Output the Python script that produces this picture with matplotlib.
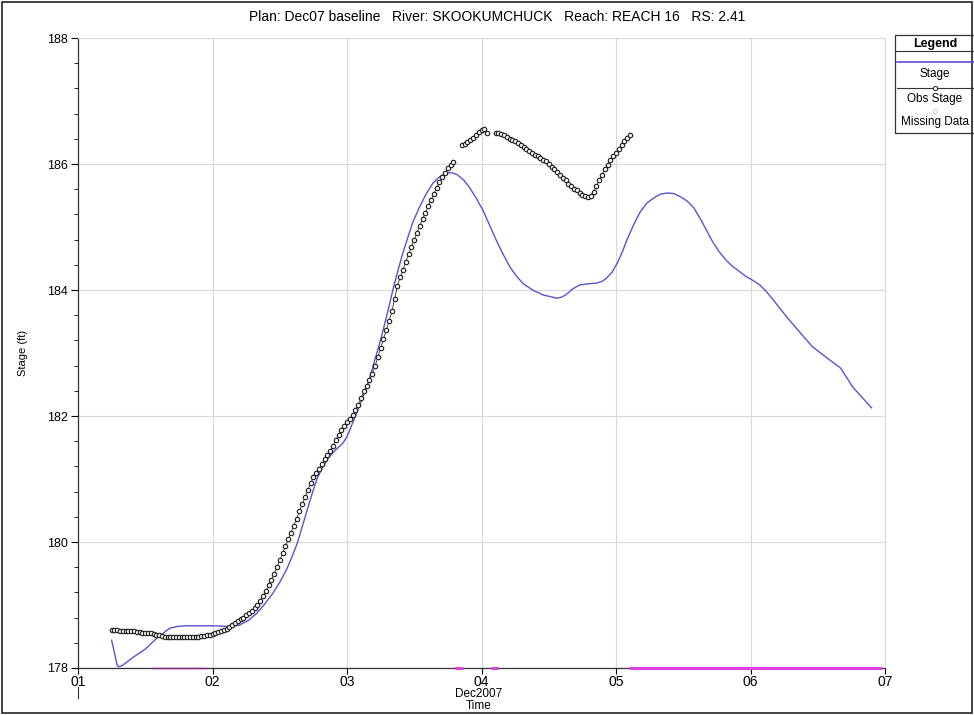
import numpy as np
import matplotlib
matplotlib.use("Agg")
import matplotlib.pyplot as plt
from matplotlib.lines import Line2D
from matplotlib.patches import Rectangle

plt.rcParams['font.family'] = ['Liberation Sans', 'DejaVu Sans']

# ---------------- data ----------------
title = "Plan: Dec07 baseline   River: SKOOKUMCHUCK   Reach: REACH 16   RS: 2.41"
x_tick_vals = [1, 2, 3, 4, 5, 6, 7]
x_tick_labels = ["01", "02", "03", "04", "05", "06", "07"]
y_tick_vals = [178, 180, 182, 184, 186, 188]

# Simulated stage (day of Dec 2007, ft)
stage_day = [1.25, 1.27, 1.29, 1.30, 1.33, 1.41, 1.50, 1.59, 1.68, 1.74, 1.80, 2.00,
             2.12, 2.20, 2.27, 2.33, 2.39, 2.45, 2.50, 2.55, 2.59, 2.63, 2.66, 2.70,
             2.75, 2.78, 2.82, 2.86, 2.90, 2.97, 3.00, 3.07, 3.15, 3.20, 3.25, 3.30,
             3.35, 3.41, 3.45, 3.49, 3.54, 3.59, 3.64, 3.69, 3.74, 3.78, 3.82, 3.87,
             3.91, 3.96, 4.01, 4.06, 4.11, 4.16, 4.21, 4.26, 4.31, 4.38, 4.46, 4.56,
             4.60, 4.63, 4.68, 4.73, 4.80, 4.86, 4.90, 4.93, 4.97, 5.01, 5.05, 5.08,
             5.13, 5.18, 5.23, 5.28, 5.33, 5.38, 5.43, 5.48, 5.53, 5.58, 5.63, 5.68,
             5.72, 5.77, 5.82, 5.87, 5.92, 5.97, 6.02, 6.07, 6.12, 6.17, 6.27, 6.37,
             6.46, 6.57, 6.67, 6.76, 6.90]
stage_ft = [178.44, 178.25, 178.05, 178.02, 178.04, 178.17, 178.30, 178.48, 178.63, 178.66, 178.67, 178.67,
            178.66, 178.68, 178.76, 178.87, 179.02, 179.19, 179.36, 179.56, 179.76, 179.98, 180.19, 180.48,
            180.83, 181.02, 181.19, 181.33, 181.43, 181.57, 181.67, 182.04, 182.47, 182.84, 183.21, 183.63,
            184.08, 184.55, 184.82, 185.08, 185.32, 185.53, 185.70, 185.80, 185.86, 185.86, 185.83, 185.74,
            185.63, 185.46, 185.27, 185.03, 184.79, 184.57, 184.37, 184.22, 184.10, 184.00, 183.92, 183.87,
            183.89, 183.93, 184.02, 184.08, 184.10, 184.11, 184.14, 184.19, 184.28, 184.43, 184.62, 184.79,
            185.03, 185.24, 185.38, 185.46, 185.52, 185.54, 185.53, 185.48, 185.41, 185.30, 185.12, 184.92,
            184.76, 184.60, 184.47, 184.37, 184.29, 184.21, 184.15, 184.08, 183.97, 183.84, 183.57, 183.32,
            183.10, 182.92, 182.76, 182.46, 182.13]

# Observed stage, half-hourly from 06:00 Dec 1 (hours after Dec 1 00:00), NaN = gap
obs_hour = np.arange(6.0, 98.51, 0.5)
obs_ft = [178.60, 178.60, 178.60, 178.59, 178.59, 178.59, 178.58, 178.58, 178.58, 178.57,
          178.57, 178.56, 178.56, 178.55, 178.55, 178.54, 178.53, 178.52, 178.51, 178.50,
          178.50, 178.50, 178.50, 178.50, 178.50, 178.50, 178.50, 178.50, 178.50, 178.50,
          178.50, 178.50, 178.51, 178.51, 178.52, 178.53, 178.54, 178.55, 178.57, 178.58,
          178.60, 178.62, 178.65, 178.68, 178.71, 178.74, 178.77, 178.80, 178.84, 178.87,
          178.90, 178.95, 179.00, 179.07, 179.14, 179.22, 179.31, 179.40, 179.50, 179.60,
          179.71, 179.82, 179.93, 180.04, 180.15, 180.26, 180.37, 180.49, 180.60, 180.71,
          180.82, 180.93, 181.03, 181.10, 181.16, 181.24, 181.31, 181.38, 181.44, 181.53,
          181.62, 181.70, 181.78, 181.84, 181.90, 181.96, 182.02, 182.10, 182.18, 182.28,
          182.39, 182.48, 182.57, 182.67, 182.79, 182.93, 183.08, 183.22, 183.36, 183.51,
          183.66, 183.86, 184.07, 184.20, 184.32, 184.45, 184.57, 184.69, 184.80, 184.91,
          185.02, 185.13, 185.23, 185.33, 185.43, 185.53, 185.62, 185.71, 185.79, 185.86,
          185.93, 185.98, 186.03, np.nan, np.nan, 186.30, 186.32, 186.35, 186.38, 186.42,
          186.46, 186.51, 186.54, 186.55, 186.50, np.nan, np.nan, 186.50, 186.49, 186.47,
          186.46, 186.43, 186.40, 186.38, 186.36, 186.33, 186.30, 186.27, 186.24, 186.21,
          186.18, 186.15, 186.12, 186.10, 186.07, 186.04, 186.00, 185.96, 185.92, 185.87,
          185.83, 185.78, 185.74, 185.69, 185.65, 185.61, 185.58, 185.54, 185.51, 185.49,
          185.48, 185.50, 185.56, 185.65, 185.74, 185.83, 185.92, 185.99, 186.06, 186.12,
          186.18, 186.24, 186.30, 186.36, 186.42, 186.46]

# Missing data spans (day start, day end), drawn at the base line
missing_start = [1.55, 3.80, 4.07, 5.10]
missing_end = [1.95, 3.86, 4.12, 6.98]
missing_level = 178.0

# ---------------- figure ----------------
W, H = 974, 715
fig = plt.figure(figsize=(W / 100, H / 100), dpi=100)

def fx(px):
    return px / W

def fy(py):
    return 1 - py / H

ax = fig.add_axes([fx(78), fy(668), fx(885) - fx(78), fy(38) - fy(668)])

obs_day = 1 + np.asarray(obs_hour) / 24.0

ax.plot(stage_day, stage_ft, color='#5555d0', lw=1.0, zorder=3)
ax.plot(obs_day, obs_ft, color='#333333', lw=0.6, zorder=4)
ax.plot(obs_day, obs_ft, ls='none', marker='o', ms=3.2, mfc='#f4f4f4', mec='#1e1e1e', mew=0.8, zorder=5)

for s, e in zip(missing_start, missing_end):
    alpha = 0.3 if s < 2 else 1.0
    ax.plot([s, e], [missing_level, missing_level], color='#e040e0', lw=2.2,
            alpha=alpha, solid_capstyle='butt', zorder=6, clip_on=False)

ax.set_xlim(1, 7)
ax.set_ylim(178, 188)
ax.set_xticks(x_tick_vals)
ax.set_xticklabels(x_tick_labels, fontsize=10)
ax.set_yticks(y_tick_vals)
ax.set_yticklabels([str(v) for v in y_tick_vals], fontsize=9)
ax.set_yticks(np.arange(178, 188.01, 0.4), minor=True)
ax.tick_params(axis='y', which='major', direction='out', length=5, width=0.8, pad=2)
ax.tick_params(axis='y', which='minor', direction='out', length=3, width=0.6)
ax.tick_params(axis='x', which='major', direction='out', length=4, width=0.8, pad=1)
ax.grid(True, which='major', color='#d9d9d9', lw=0.8)
ax.set_axisbelow(True)
for side in ['top', 'right']:
    ax.spines[side].set_color('#d9d9d9')
for side in ['left', 'bottom']:
    ax.spines[side].set_color('#333333')
    ax.spines[side].set_linewidth(0.9)

ax.set_ylabel("Stage (ft)", fontsize=8, labelpad=14)
fig.text(fx(479), fy(694), "Dec2007", ha='center', va='center', fontsize=8.5)
fig.text(fx(479), fy(706), "Time", ha='center', va='center', fontsize=8.5)
fig.add_artist(Line2D([fx(78), fx(78)], [fy(687), fy(698)], color='#333333', lw=0.8))

fig.text(fx(497), fy(17), title, ha='center', va='center', fontsize=10)

# figure border
fig.add_artist(Rectangle((fx(2), fy(713)), fx(972) - fx(2), fy(2) - fy(713),
                         fill=False, ec='#222222', lw=1.2))

# ---------------- legend box ----------------
fig.add_artist(Rectangle((fx(895), fy(133)), fx(990) - fx(895), fy(35) - fy(133),
                         fill=False, ec='#333333', lw=0.9, clip_on=False))
fig.text(fx(935), fy(44), "Legend", ha='center', va='center', fontsize=9, fontweight='bold')
fig.add_artist(Line2D([fx(895), fx(974)], [fy(51), fy(51)], color='#333333', lw=0.8))
fig.add_artist(Line2D([fx(897), fx(974)], [fy(62), fy(62)], color='#5555d0', lw=1.2))
fig.text(fx(935), fy(74), "Stage", ha='center', va='center', fontsize=8.5)
fig.add_artist(Line2D([fx(897), fx(974)], [fy(88), fy(88)], color='#333333', lw=0.8))
fig.add_artist(Line2D([fx(935)], [fy(88)], marker='o', ms=3, mfc='white', mec='#222222', mew=0.7))
fig.text(fx(935), fy(99), "Obs Stage", ha='center', va='center', fontsize=8.5)
fig.add_artist(Line2D([fx(935)], [fy(111)], marker='o', ms=3, mfc='white', mec='#cccccc', mew=0.7))
fig.text(fx(935), fy(122), "Missing Data", ha='center', va='center', fontsize=8.5)

fig.savefig("out.png", dpi=100)
